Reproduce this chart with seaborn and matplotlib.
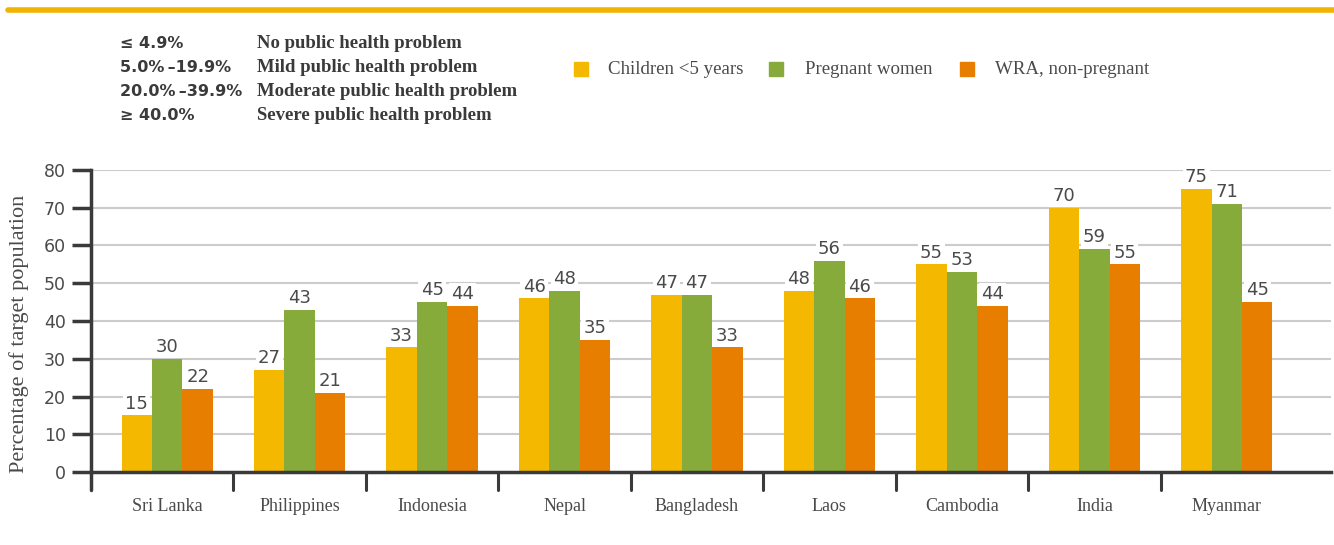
import matplotlib
matplotlib.use("Agg")
import matplotlib.pyplot as plt
import seaborn as sns
import pandas as pd
from matplotlib.patches import Rectangle
from matplotlib.lines import Line2D

countries = ["Sri Lanka", "Philippines", "Indonesia", "Nepal", "Bangladesh",
             "Laos", "Cambodia", "India", "Myanmar"]
series_names = ["Children <5 years", "Pregnant women", "WRA, non-pregnant"]
children = [15, 27, 33, 46, 47, 48, 55, 70, 75]
pregnant = [30, 43, 45, 48, 47, 56, 53, 59, 71]
wra = [22, 21, 44, 35, 33, 46, 44, 55, 45]
thresholds = ["≤ 4.9%", "5.0%\u2009–19.9%", "20.0%\u2009–39.9%", "≥ 40.0%"]
threshold_labels = ["No public health problem", "Mild public health problem",
                    "Moderate public health problem", "Severe public health problem"]
yticks = [0, 10, 20, 30, 40, 50, 60, 70, 80]

colors = ["#F4B800", "#86AB3A", "#E87E00"]
text_col = "#4a4a4a"
serif = "Liberation Serif"

rows = []
for name, vals in zip(series_names, [children, pregnant, wra]):
    for c, v in zip(countries, vals):
        rows.append({"country": c, "group": name, "value": v})
df = pd.DataFrame(rows)

sns.set_theme(style="white")
plt.rcParams['font.family'] = ['DejaVu Sans']

fig = plt.figure(figsize=(13.34, 5.45), dpi=100)
ax = fig.add_axes([91/1334, 1 - 472/545, (1331 - 91)/1334, (472 - 170)/545])

sns.barplot(data=df, x="country", y="value", hue="group", order=countries,
            hue_order=series_names, palette=colors, width=0.69, ax=ax,
            legend=False, saturation=1, errorbar=None, zorder=3, linewidth=0)

for cont in ax.containers:
    ax.bar_label(cont, labels=[f"{int(v)}" for v in cont.datavalues], padding=2,
                 fontsize=13, color=text_col, zorder=4,
                 bbox=dict(facecolor="white", edgecolor="none", pad=1.5))

ax.set_ylim(0, 80)
ax.set_xlim(-0.5 - 10/132.5, 8.5 + 38/132.5)
ax.set_yticks(yticks)
ax.set_yticklabels([str(t) for t in yticks], fontsize=12.5, color=text_col)
for y in yticks[1:]:
    ax.axhline(y, color="#cccccc", lw=1.5, zorder=1)

ax.set_xticks(range(len(countries)))
ax.set_xticklabels(countries, fontsize=13, color=text_col, family=serif)
ax.tick_params(axis="x", length=0, pad=19, bottom=False)
ax.tick_params(axis="y", left=True, length=14, width=2.5, color="#3a3a3a",
               direction="out", pad=4)

for b in [0.5 + i for i in range(8)]:
    ax.plot([b, b], [0, -4.8], color="#3a3a3a", lw=2.2, clip_on=False, zorder=5)
ax.plot([ax.get_xlim()[0]] * 2, [0, -4.8], color="#3a3a3a", lw=2.5, clip_on=False, zorder=5)

for s in ["top", "right"]:
    ax.spines[s].set_visible(False)
ax.spines["left"].set_color("#3a3a3a")
ax.spines["left"].set_linewidth(2.5)
ax.spines["bottom"].set_color("#3a3a3a")
ax.spines["bottom"].set_linewidth(2.5)
ax.spines["bottom"].set_zorder(6)
ax.set_xlabel("")
ax.set_ylabel("")
fig.text(19/1334, 1 - 334/545, "Percentage of target population", rotation=90,
         fontsize=16, color=text_col, family=serif, ha="center", va="center")

# top rule
fig.add_artist(Line2D([8/1334, 1], [1 - 10/545, 1 - 10/545], color="#F0B400", lw=4))

# threshold key
for i, (t, lab) in enumerate(zip(thresholds, threshold_labels)):
    yy = 1 - (44 + 24*i)/545
    fig.text(120/1334, yy, t, fontsize=11.5, fontweight="bold", color="#3a3a3a", va="center")
    fig.text(257/1334, yy, lab, fontsize=13.5, fontweight="bold", color="#3a3a3a",
             va="center", family=serif)

# legend
for x0, tx, name, col in zip([574, 769, 960], [608, 805, 995], series_names, colors):
    fig.add_artist(Rectangle((x0/1334, 1 - 76/545), 14/1334, 14/545, color=col,
                             transform=fig.transFigure))
    fig.text(tx/1334, 1 - 69/545, name, fontsize=13.6, color=text_col, va="center",
             family=serif)

fig.savefig("out.png", dpi=100)
